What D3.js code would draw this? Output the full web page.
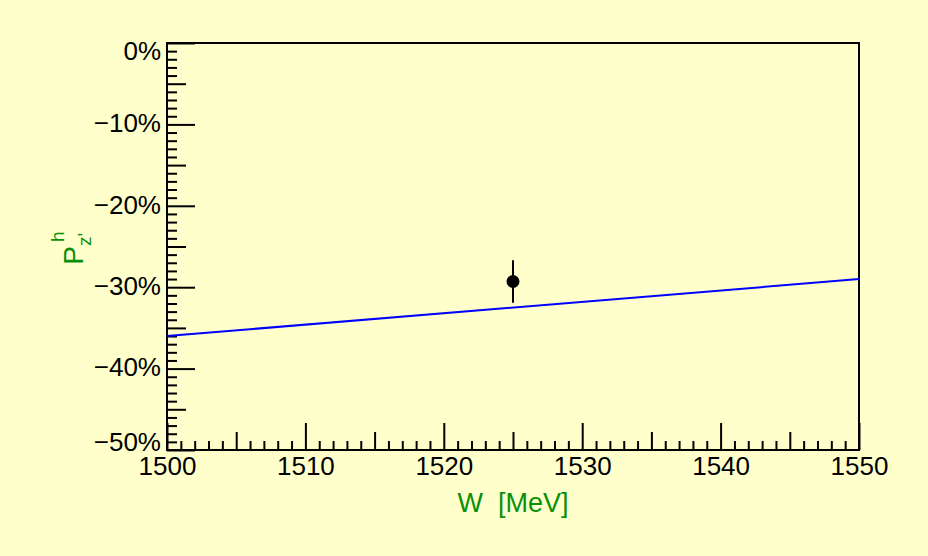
<!DOCTYPE html>
<html>
<head>
<meta charset="utf-8">
<script src="https://cdn.jsdelivr.net/npm/d3@7"></script>
<style>
  body { margin: 0; background: #ffffcc; }
  svg { display: block; font-family: "Liberation Sans", Arial, sans-serif; }
</style>
</head>
<body>
<div id="chart"></div>
<script>
// x axis: W in MeV, y axis: polarisation in %
var xDomain = [1500, 1550];
var yDomain = [-50, 0];
var xMajorTicks = [1500, 1510, 1520, 1530, 1540, 1550];
var yMajorTicks = [0, -10, -20, -30, -40, -50];

// measured point
var pointW = [1525];
var pointP = [-29.3];
var pointErr = [2.6];

// model curve (blue)
var curveW = [1500, 1550];
var curveP = [-36.0, -29.0];

var W = 928, H = 556;
var margin = {left: 167, right: 69, top: 43, bottom: 106};
var green = "#0a8f0a";

var svg = d3.select("#chart").append("svg")
    .attr("width", W)
    .attr("height", H);

svg.append("rect")
    .attr("width", W)
    .attr("height", H)
    .attr("fill", "#ffffcc");

var x = d3.scaleLinear().domain(xDomain).range([margin.left, W - margin.right]);
var y = d3.scaleLinear().domain(yDomain).range([H - margin.bottom, margin.top]);

var minorX = d3.range(xDomain[0], xDomain[1] + 1, 1).filter(function(d) { return d % 5 !== 0; });
var mediumX = d3.range(xDomain[0] + 5, xDomain[1], 10);
var minorY = d3.range(yDomain[0], yDomain[1] + 1, 1).filter(function(d) { return d % 5 !== 0; });
var mediumY = d3.range(yDomain[0] + 5, yDomain[1], 10);

function fmtPct(d) {
    return (d < 0 ? "\u2212" + Math.abs(d) : d) + "%";
}

// ticks point inward, drawn in separate passes for each length
function addX(ticks, len, labels) {
    var g = svg.append("g")
        .attr("transform", "translate(0," + (H - margin.bottom) + ")")
        .call(d3.axisBottom(x).tickValues(ticks).tickSizeInner(-len).tickSizeOuter(0)
            .tickPadding(7)
            .tickFormat(labels ? d3.format("d") : ""));
    g.select(".domain").remove();
    g.selectAll("line").attr("stroke", "#000").attr("stroke-width", 2);
    g.selectAll("text").attr("font-size", 26).attr("fill", "#000")
        .attr("font-family", "Liberation Sans, Arial, sans-serif")
        .attr("dy", "0.71em");
}

function addY(ticks, len, labels) {
    var g = svg.append("g")
        .attr("transform", "translate(" + margin.left + ",0)")
        .call(d3.axisLeft(y).tickValues(ticks).tickSizeInner(-len).tickSizeOuter(0)
            .tickPadding(6)
            .tickFormat(labels ? fmtPct : ""));
    g.select(".domain").remove();
    g.selectAll("line").attr("stroke", "#000").attr("stroke-width", 2);
    // end labels are pulled inside the axis span
    g.selectAll("text").attr("font-size", 26).attr("fill", "#000")
        .attr("font-family", "Liberation Sans, Arial, sans-serif")
        .attr("dy", function(d) {
            if (d === yDomain[1]) return "0.62em";
            if (d === yDomain[0]) return "0em";
            return "0.28em";
        });
}

addX(minorX, 9, false);
addX(mediumX, 18, false);
addX(xMajorTicks, 27, true);
addY(minorY, 10, false);
addY(mediumY, 19, false);
addY(yMajorTicks, 28, true);

// frame
svg.append("rect")
    .attr("x", margin.left)
    .attr("y", margin.top)
    .attr("width", W - margin.left - margin.right)
    .attr("height", H - margin.top - margin.bottom)
    .attr("fill", "none")
    .attr("stroke", "#000")
    .attr("stroke-width", 2);

// model line
var curve = curveW.map(function(d, i) { return [d, curveP[i]]; });
svg.append("path")
    .datum(curve)
    .attr("fill", "none")
    .attr("stroke", "#0000ff")
    .attr("stroke-width", 2)
    .attr("d", d3.line().x(function(d) { return x(d[0]); }).y(function(d) { return y(d[1]); }));

// data point with error bar
var pts = pointW.map(function(d, i) { return {w: d, p: pointP[i], e: pointErr[i]}; });
svg.selectAll(".err").data(pts).enter().append("line")
    .attr("x1", function(d) { return x(d.w); })
    .attr("x2", function(d) { return x(d.w); })
    .attr("y1", function(d) { return y(d.p + d.e); })
    .attr("y2", function(d) { return y(d.p - d.e); })
    .attr("stroke", "#000")
    .attr("stroke-width", 2);
svg.selectAll(".pt").data(pts).enter().append("circle")
    .attr("cx", function(d) { return x(d.w); })
    .attr("cy", function(d) { return y(d.p); })
    .attr("r", 6.5)
    .attr("fill", "#000");

// axis titles
svg.append("text")
    .attr("x", (x.range()[0] + x.range()[1]) / 2)
    .attr("y", 512)
    .attr("text-anchor", "middle")
    .attr("font-size", 27)
    .attr("fill", green)
    .attr("xml:space", "preserve")
    .text("W  [MeV]");

var yt = svg.append("text")
    .attr("transform", "translate(83,248) rotate(-90)")
    .attr("text-anchor", "middle")
    .attr("font-size", 28)
    .attr("fill", green);
yt.append("tspan").text("P");
yt.append("tspan").attr("font-size", 19).attr("dy", 8).text("z'");
yt.append("tspan").attr("font-size", 19).attr("dx", -9).attr("dy", -27).text("h");
</script>
</body>
</html>
